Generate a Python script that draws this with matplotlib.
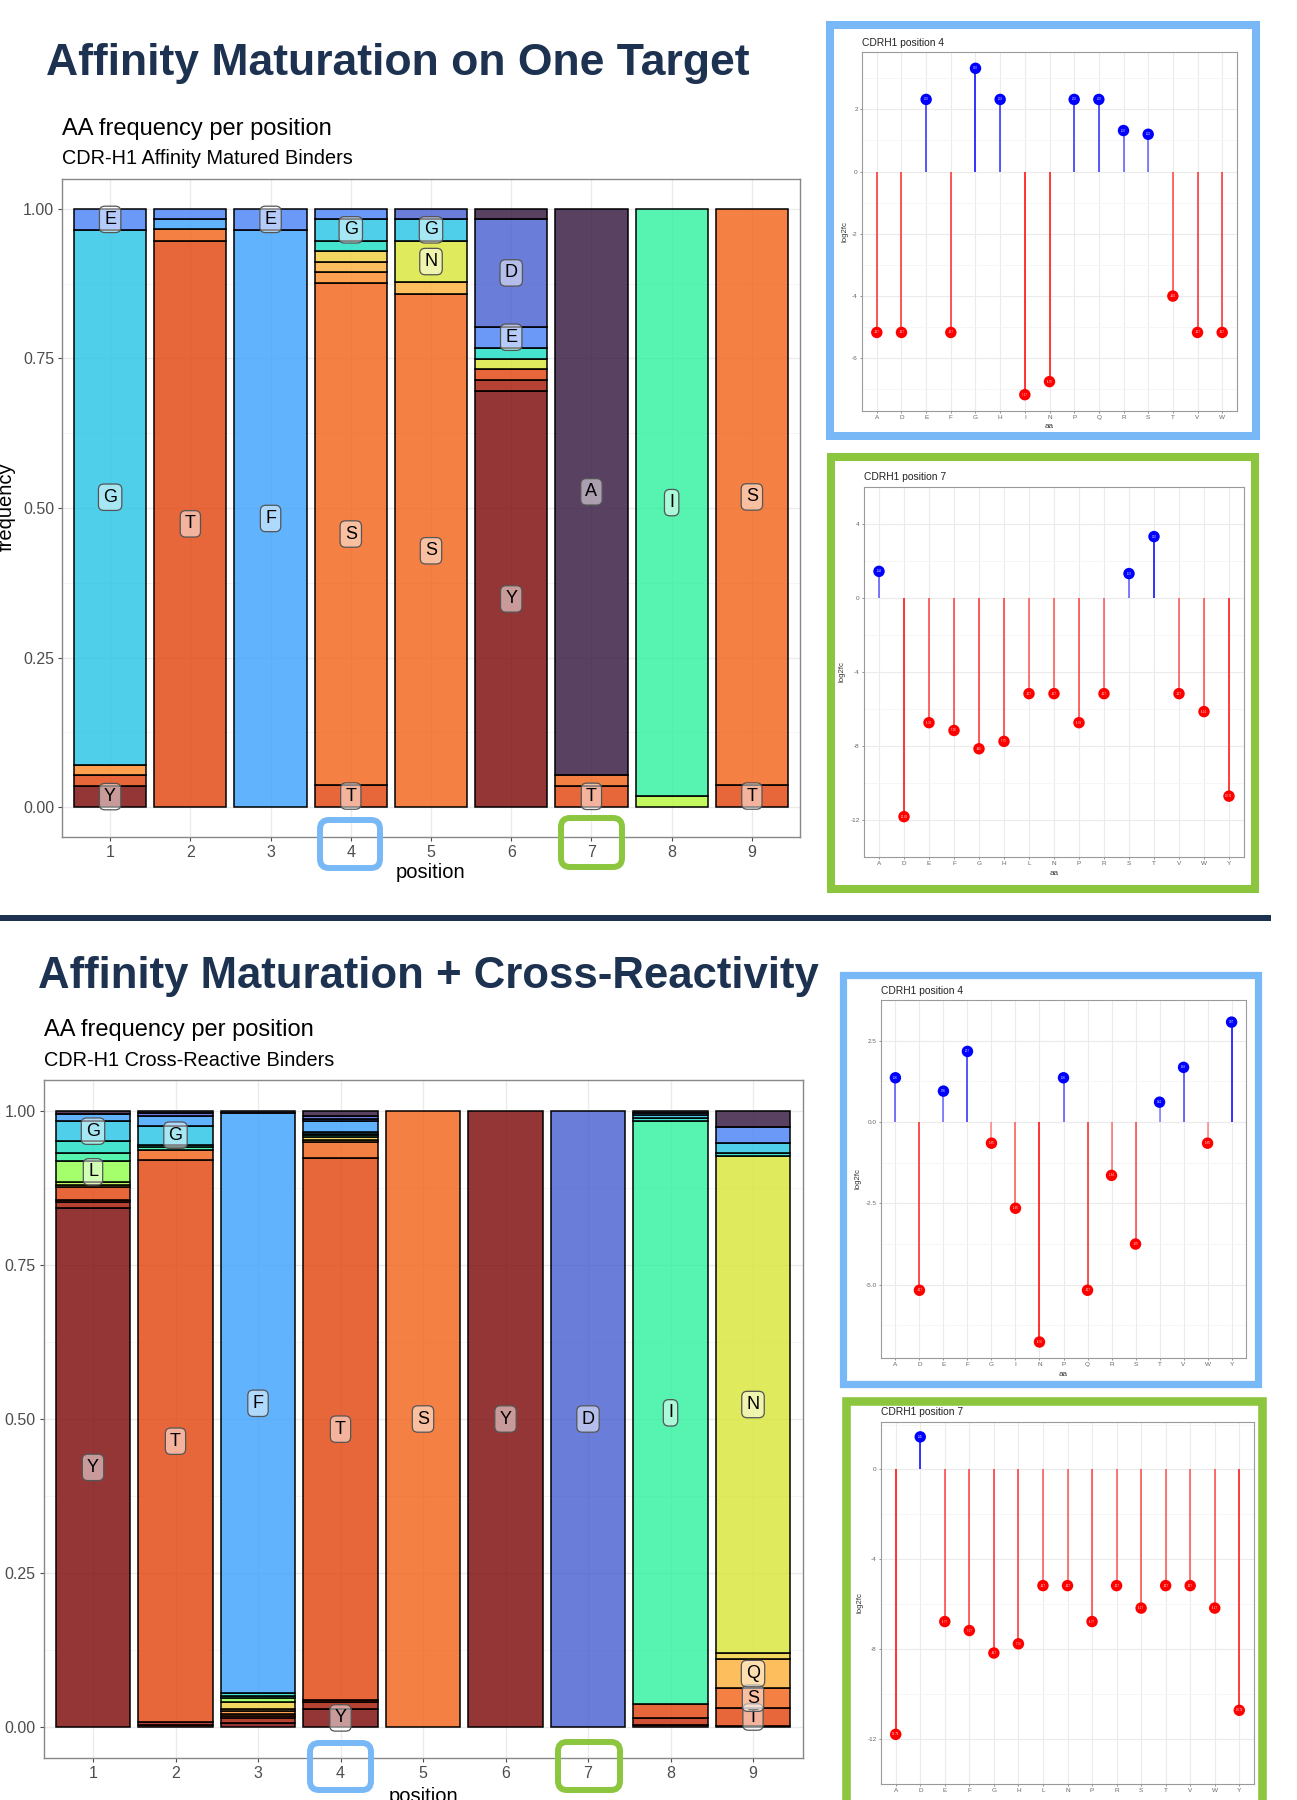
import matplotlib
matplotlib.use("Agg")
import matplotlib.pyplot as plt
import numpy as np
from matplotlib.patches import Rectangle, FancyBboxPatch
from matplotlib.transforms import Affine2D

plt.rcParams['font.family'] = ['Liberation Sans', 'DejaVu Sans']

# ---------------- data ----------------
AA_LEVELS = list("ACDEFGHIKLMNPQRSTVWY")
positions = [1, 2, 3, 4, 5, 6, 7, 8, 9]

# Affinity matured binders: residues and frequencies per position
am_aa = [
    ["E", "G", "R", "T", "Y"],
    ["E", "F", "S", "T"],
    ["E", "F"],
    ["E", "G", "H", "P", "Q", "R", "S", "T"],
    ["D", "G", "N", "Q", "S"],
    ["A", "D", "E", "H", "N", "T", "W", "Y"],
    ["A", "S", "T"],
    ["I", "M"],
    ["S", "T"],
]
am_freq = [
    [0.035, 0.894, 0.018, 0.018, 0.035],
    [0.017, 0.017, 0.019, 0.947],
    [0.035, 0.965],
    [0.017, 0.036, 0.017, 0.019, 0.017, 0.018, 0.839, 0.037],
    [0.017, 0.036, 0.070, 0.020, 0.857],
    [0.017, 0.180, 0.035, 0.019, 0.017, 0.018, 0.018, 0.696],
    [0.946, 0.018, 0.036],
    [0.982, 0.018],
    [0.963, 0.037],
]

# Cross-reactive binders
cr_aa = [
    ["A", "F", "G", "H", "I", "L", "M", "Q", "T", "V", "W", "Y"],
    ["A", "D", "F", "G", "H", "I", "S", "T", "W", "Y"],
    ["A", "F", "H", "I", "L", "P", "Q", "R", "S", "T", "W", "Y"],
    ["A", "D", "E", "F", "G", "H", "I", "P", "Q", "S", "T", "V", "W", "Y"],
    ["S"],
    ["Y"],
    ["D"],
    ["A", "F", "G", "H", "I", "T", "V", "Y"],
    ["A", "E", "G", "H", "N", "P", "Q", "S", "T", "Y"],
]
cr_freq = [
    [0.005, 0.012, 0.032, 0.019, 0.014, 0.034, 0.004, 0.004, 0.020, 0.004, 0.009, 0.843],
    [0.004, 0.004, 0.016, 0.031, 0.004, 0.004, 0.017, 0.912, 0.004, 0.004],
    [0.004, 0.941, 0.004, 0.004, 0.006, 0.011, 0.004, 0.005, 0.003, 0.003, 0.008, 0.007],
    [0.008, 0.005, 0.004, 0.017, 0.003, 0.003, 0.003, 0.004, 0.004, 0.026, 0.879, 0.003, 0.011, 0.030],
    [1.0],
    [1.0],
    [1.0],
    [0.003, 0.004, 0.005, 0.005, 0.946, 0.022, 0.012, 0.003],
    [0.0255, 0.026, 0.0165, 0.006, 0.805, 0.010, 0.048, 0.032, 0.029, 0.002],
]

freq_ticks = [0.0, 0.25, 0.5, 0.75, 1.0]
freq_ticklabels = ["0.00", "0.25", "0.50", "0.75", "1.00"]

# log2 fold change lollipops
aa4_am = list("ADEFGHINPQRSTVW")
lfc4_am = [-5.17, -5.17, 2.32, -5.17, 3.32, 2.32, -7.17, -6.75, 2.32, 2.32, 1.32, 1.20, -4.00, -5.17, -5.17]
aa7_am = list("ADEFGHLNPRSTVWY")
lfc7_am = [1.44, -11.82, -6.74, -7.16, -8.15, -7.75, -5.17, -5.17, -6.74, -5.17, 1.32, 3.32, -5.17, -6.14, -10.71]
aa4_cr = list("ADEFGINPQRSTVWY")
lfc4_cr = [1.36, -5.17, 0.95, 2.17, -0.65, -2.65, -6.76, 1.36, -5.17, -1.64, -3.75, 0.61, 1.68, -0.65, 3.07]
aa7_cr = list("ADEFGHLNPRSTVWY")
lfc7_cr = [-11.79, 1.45, -6.77, -7.17, -8.17, -7.76, -5.17, -5.17, -6.77, -5.17, -6.17, -5.17, -5.17, -6.17, -10.72]

# ---------------- figure ----------------
W, H = 1297, 1800
fig = plt.figure(figsize=(W / 100, H / 100), dpi=100)
fig.patch.set_facecolor("white")
PX = Affine2D().scale(1.0 / fig.dpi) + fig.dpi_scale_trans  # pixel transform (origin bottom-left)

NAVY = "#1c3250"
BLUE = "#79b8f7"
GREEN = "#8cc63f"


def add_ax(x0, y0, x1, y1):
    return fig.add_axes([x0 / W, 1 - y1 / H, (x1 - x0) / W, (y1 - y0) / H])


def ftext(x, y, s, **kw):
    return fig.text(x / W, 1 - y / H, s, **kw)


def rect_px(x0, y0, x1, y1, color, lw, rounded=False):
    if rounded:
        p = FancyBboxPatch((x0, H - y1), x1 - x0, y1 - y0,
                           boxstyle="round,pad=0,rounding_size=9",
                           fill=False, ec=color, lw=lw, transform=PX)
    else:
        p = Rectangle((x0, H - y1), x1 - x0, y1 - y0, fill=False, ec=color, lw=lw,
                      transform=PX, joinstyle="miter")
    fig.add_artist(p)


cmap = plt.get_cmap("turbo")


def draw_stack(ax, aa_lists, freq_lists):
    for p, aas, fr in zip(positions, aa_lists, freq_lists):
        order = sorted(range(len(aas)), key=lambda i: AA_LEVELS.index(aas[i]), reverse=True)
        bottom = 0.0
        for i in order:
            c = cmap(AA_LEVELS.index(aas[i]) / (len(AA_LEVELS) - 1))
            ax.bar(p, fr[i], bottom=bottom, width=0.9, color=(c[0], c[1], c[2], 0.8),
                   edgecolor="black", linewidth=1.1, zorder=2)
            if fr[i] > 0.027:
                ax.text(p, bottom + fr[i] / 2, aas[i], ha="center", va="center",
                        fontsize=13, color="black", zorder=4,
                        bbox=dict(boxstyle="round,pad=0.26,rounding_size=0.3",
                                  fc=(1, 1, 1, 0.5), ec="#555555", lw=0.9))
            bottom += fr[i]
    ax.set_xlim(0.4, 9.6)
    ax.set_ylim(-0.05, 1.05)
    ax.set_xticks(positions)
    ax.set_xticklabels([str(p) for p in positions])
    ax.set_yticks(freq_ticks)
    ax.set_yticklabels(freq_ticklabels)
    ax.set_yticks([0.125, 0.375, 0.625, 0.875], minor=True)
    ax.set_axisbelow(True)
    ax.grid(True, which="major", color="#ebebeb", lw=1.0)
    ax.grid(True, which="minor", axis="y", color="#f2f2f2", lw=0.6)
    ax.tick_params(axis="both", which="major", labelsize=11.5, colors="#4d4d4d",
                   length=3, width=0.8, pad=2.5)
    ax.tick_params(axis="both", which="minor", length=0)
    for s in ax.spines.values():
        s.set_color("#888888")
        s.set_linewidth(1.0)


def draw_lolli(ax, aas, vals, yticks, yticklabels):
    x = np.arange(1, len(aas) + 1)
    vmin = min(min(vals), 0)
    vmax = max(max(vals), 0)
    r = vmax - vmin
    ax.set_xlim(0.4, len(aas) + 0.6)
    ax.set_ylim(vmin - 0.05 * r, vmax + 0.05 * r)
    negmax = max([-v for v in vals if v < 0] + [1e-9])
    posmax = max([v for v in vals if v > 0] + [1e-9])
    for xi, v in zip(x, vals):
        if v < 0:
            col, a = "#ff0000", 0.4 + 0.6 * (-v / negmax)
        else:
            col, a = "#0000ff", 0.4 + 0.6 * (v / posmax)
        ax.plot([xi, xi], [0, v], color=col, lw=1.1, alpha=a, solid_capstyle="butt", zorder=2)
        ax.scatter([xi], [v], s=68, color=col, edgecolors="none", zorder=3)
        ax.text(xi, v, f"{v:.2f}", fontsize=1.8, color="white", ha="center", va="center", zorder=4)
    ax.set_xticks(x)
    ax.set_xticklabels(aas)
    ax.set_yticks(yticks)
    ax.set_yticklabels(yticklabels)
    mids = [(a + b) / 2 for a, b in zip(yticks[:-1], yticks[1:])]
    step = yticks[1] - yticks[0]
    mids = [yticks[0] - step / 2] + mids + [yticks[-1] + step / 2]
    ax.set_yticks(mids, minor=True)
    ax.set_axisbelow(True)
    ax.grid(True, which="major", color="#ebebeb", lw=0.8)
    ax.grid(True, which="minor", axis="y", color="#f3f3f3", lw=0.5)
    ax.tick_params(axis="both", which="major", labelsize=4.6, colors="#666666",
                   length=1.5, width=0.5, pad=1.5)
    ax.tick_params(axis="both", which="minor", length=0)
    for s in ax.spines.values():
        s.set_color("#9a9a9a")
        s.set_linewidth(0.8)


# ---------------- top section ----------------
ftext(46, 75, "Affinity Maturation on One Target", fontsize=32, fontweight="bold",
      color=NAVY, va="baseline", ha="left")
ftext(62, 135, "AA frequency per position", fontsize=17, va="baseline", color="black")
ftext(62, 164, "CDR-H1 Affinity Matured Binders", fontsize=14.3, va="baseline", color="black")

ax1 = add_ax(62, 179, 800, 837)
draw_stack(ax1, am_aa, am_freq)
ftext(431, 873, "position", fontsize=14.5, ha="center", va="center", color="black")
ftext(6, 507, "frequency", fontsize=14.5, ha="center", va="center", rotation=90, color="black")

rect_px(320, 820, 380, 868, BLUE, 4.3, rounded=True)
rect_px(561, 818, 622, 867, GREEN, 4.3, rounded=True)

# separator
fig.add_artist(Rectangle((0, H - 921), 1271, 6, color=NAVY, transform=PX, lw=0))

# ---------------- bottom section ----------------
ftext(38, 988, "Affinity Maturation + Cross-Reactivity", fontsize=31.5, fontweight="bold",
      color=NAVY, va="baseline", ha="left")
ftext(44, 1036, "AA frequency per position", fontsize=17, va="baseline", color="black")
ftext(44, 1066, "CDR-H1 Cross-Reactive Binders", fontsize=14.3, va="baseline", color="black")

ax2 = add_ax(43.5, 1080, 802.5, 1758)
draw_stack(ax2, cr_aa, cr_freq)
ftext(423, 1797, "position", fontsize=14.5, ha="center", va="center", color="black")

rect_px(310, 1743, 371, 1790, BLUE, 4.3, rounded=True)
rect_px(558, 1742, 620, 1790, GREEN, 4.3, rounded=True)

# ---------------- insets ----------------
insets = [
    ((862, 52, 1237, 411), aa4_am, lfc4_am, [-6, -4, -2, 0, 2], ["-6", "-4", "-2", "0", "2"],
     "CDRH1 position 4", 43, 845, 427),
    ((864, 487, 1244, 857), aa7_am, lfc7_am, [-12, -8, -4, 0, 4], ["-12", "-8", "-4", "0", "4"],
     "CDRH1 position 7", 477, 842, 874),
    ((881, 1000, 1246, 1358), aa4_cr, lfc4_cr, [-5.0, -2.5, 0.0, 2.5], ["-5.0", "-2.5", "0.0", "2.5"],
     "CDRH1 position 4", 991, 858, 1375),
    ((881, 1422, 1254, 1784), aa7_cr, lfc7_cr, [-12, -8, -4, 0], ["-12", "-8", "-4", "0"],
     "CDRH1 position 7", 1412, 860, 1803),
]
for (x0, y0, x1, y1), aas, vals, yt, ytl, title, ty, lx, ay in insets:
    ax = add_ax(x0, y0, x1, y1)
    draw_lolli(ax, aas, vals, yt, ytl)
    ftext(x0, ty, title, fontsize=7.4, ha="left", va="center", color="#222222")
    ftext(lx, (y0 + y1) / 2, "log2fc", fontsize=5.6, ha="center", va="center", rotation=90, color="#333333")
    ftext((x0 + x1) / 2, ay, "aa", fontsize=5.8, ha="center", va="center", color="#333333")

# inset frames
rect_px(830, 25, 1256, 436, BLUE, 5.8)
rect_px(831, 457, 1255, 889, GREEN, 5.8)
rect_px(842.5, 974.5, 1257.5, 1383.5, BLUE, 5.2)
rect_px(845.5, 1400.5, 1261.5, 1815, GREEN, 6.2)

fig.savefig("out.png", dpi=100, facecolor="white")
